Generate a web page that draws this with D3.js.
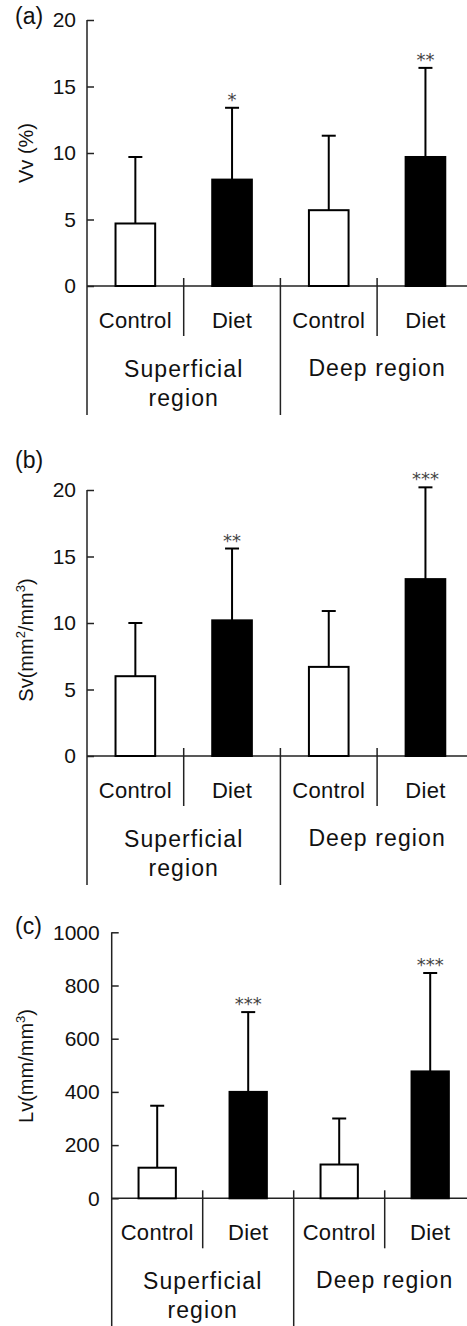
<!DOCTYPE html>
<html lang="en">
<head>
<meta charset="UTF-8">
<title>Vv, Sv, Lv by region</title>
<script src="https://d3js.org/d3.v7.min.js"></script>
<style>
  body { margin: 0; background: #fff; }
  svg { display: block; font-family: "Liberation Sans", Arial, Helvetica, sans-serif; }
  .axis path, .axis line, .rule { stroke: #222; stroke-width: 1.5px; }
  .axis text { font-size: 21px; fill: #111; }
  .cat { font-size: 22px; letter-spacing: 0.3px; fill: #111; }
  .grp { font-size: 23px; letter-spacing: 1.1px; fill: #111; }
  .star { font-size: 18px; fill: #444; font-family: "DejaVu Sans", sans-serif; }
</style>
</head>
<body>
<svg width="467" height="1326"></svg>
<script>
const categories = ["Control", "Diet", "Control", "Diet"];
const groups = ["Superficial region", "Deep region"];
const treated = [false, true, false, true];

const vvMean = [4.7, 8.0, 5.7, 9.7];
const vvSD = [5.0, 5.4, 5.6, 6.7];
const vvStars = ["", "*", "", "**"];
const vvTicks = [0, 5, 10, 15, 20];

const svMean = [6.0, 10.2, 6.7, 13.3];
const svSD = [4.0, 5.4, 4.2, 6.9];
const svStars = ["", "**", "", "***"];
const svTicks = [0, 5, 10, 15, 20];

const lvMean = [115, 400, 127, 477];
const lvSD = [233, 300, 173, 370];
const lvStars = ["", "***", "", "***"];
const lvTicks = [0, 200, 400, 600, 800, 1000];

const svg = d3.select("svg");

function panel(o) {
  const g = svg.append("g");
  const x = d3.scaleBand().domain(d3.range(4))
    .range([o.axisX, o.axisX + 4 * o.bandW]);
  const y = d3.scaleLinear().domain([0, o.ticks[o.ticks.length - 1]])
    .range([o.base, o.top]);
  const bw = x.bandwidth() * 0.41;
  const cx = i => x(i) + x.bandwidth() / 2;

  // y axis, ticks pointing inward
  const ax = g.append("g").attr("class", "axis")
    .attr("transform", `translate(${o.axisX},0)`)
    .call(d3.axisLeft(y).tickValues(o.ticks).tickFormat(d3.format("d"))
      .tickSizeInner(-7).tickSizeOuter(0).tickPadding(o.pad));
  ax.select(".domain").remove();
  g.append("line").attr("class", "rule")
    .attr("x1", o.axisX).attr("x2", o.axisX)
    .attr("y1", o.top).attr("y2", o.base + o.longLen);
  // baseline
  g.append("line").attr("class", "rule")
    .attr("x1", o.axisX).attr("x2", 467)
    .attr("y1", y(0)).attr("y2", y(0));

  // dividers
  [1, 2, 3].forEach(i => {
    g.append("line").attr("class", "rule")
      .attr("x1", x(i)).attr("x2", x(i))
      .attr("y1", y(0) - 8)
      .attr("y2", y(0) + (i === 2 ? o.longLen : 50));
  });

  // error bars
  const data = o.mean.map((m, i) => ({ i, m, sd: o.sd[i], star: o.stars[i] }));
  data.forEach(d => {
    g.append("line").attr("stroke", "#000").attr("stroke-width", 2)
      .attr("x1", cx(d.i)).attr("x2", cx(d.i))
      .attr("y1", y(d.m)).attr("y2", y(d.m + d.sd));
    g.append("line").attr("stroke", "#000").attr("stroke-width", 2)
      .attr("x1", cx(d.i) - 7).attr("x2", cx(d.i) + 7)
      .attr("y1", y(d.m + d.sd)).attr("y2", y(d.m + d.sd));
    g.append("text").attr("class", "star")
      .attr("x", cx(d.i)).attr("y", y(d.m + d.sd) - 2)
      .attr("text-anchor", "middle").text(d.star);
  });

  // bars
  g.selectAll("rect.bar").data(data).join("rect")
    .attr("x", d => cx(d.i) - bw / 2)
    .attr("y", d => y(d.m))
    .attr("width", bw)
    .attr("height", d => y(0) - y(d.m))
    .attr("fill", d => treated[d.i] ? "#000" : "#fff")
    .attr("stroke", "#000").attr("stroke-width", 2);

  // category labels
  categories.forEach((c, i) => {
    g.append("text").attr("class", "cat")
      .attr("x", cx(i)).attr("y", y(0) + 42)
      .attr("text-anchor", "middle").text(c);
  });
  // group labels
  const t1 = g.append("text").attr("class", "grp")
    .attr("text-anchor", "middle").attr("x", x(1)).attr("y", y(0) + 91);
  t1.append("tspan").attr("x", x(1)).text(groups[0].split(" ")[0]);
  t1.append("tspan").attr("x", x(1)).attr("dy", 28.5).text(groups[0].split(" ")[1]);
  g.append("text").attr("class", "grp")
    .attr("text-anchor", "middle").attr("x", x(3)).attr("y", y(0) + 90)
    .text(groups[1]);

  // panel label
  g.append("text").attr("x", 15).attr("y", o.labelY)
    .attr("font-size", 23).attr("fill", "#111").text(o.label);

  // y title
  const yt = g.append("text")
    .attr("transform", `translate(33,${o.titleY}) rotate(-90)`)
    .attr("text-anchor", "middle").attr("font-size", 20).attr("fill", "#111");
  o.title.forEach(p => {
    const s = yt.append("tspan").text(p.t);
    if (p.sup) s.attr("font-size", 13).attr("dy", -8);
    if (p.down) s.attr("dy", 8);
  });
}

panel({ top: 20, base: 286, axisX: 87, bandW: 96.7, pad: 11, longLen: 129,
  ticks: vvTicks, mean: vvMean, sd: vvSD, stars: vvStars,
  label: "(a)", labelY: 24, titleY: 153, title: [{ t: "Vv (%)" }] });

panel({ top: 490, base: 756, axisX: 87, bandW: 96.7, pad: 11, longLen: 129,
  ticks: svTicks, mean: svMean, sd: svSD, stars: svStars,
  label: "(b)", labelY: 468, titleY: 640,
  title: [{ t: "Sv(mm" }, { t: "2", sup: true }, { t: "/mm", down: true }, { t: "3", sup: true }, { t: ")", down: true }] });

panel({ top: 932.3, base: 1198.3, axisX: 111.7, bandW: 91, pad: 12, longLen: 140,
  ticks: lvTicks, mean: lvMean, sd: lvSD, stars: lvStars,
  label: "(c)", labelY: 934, titleY: 1066,
  title: [{ t: "Lv(mm/mm" }, { t: "3", sup: true }, { t: ")", down: true }] });
</script>
</body>
</html>
